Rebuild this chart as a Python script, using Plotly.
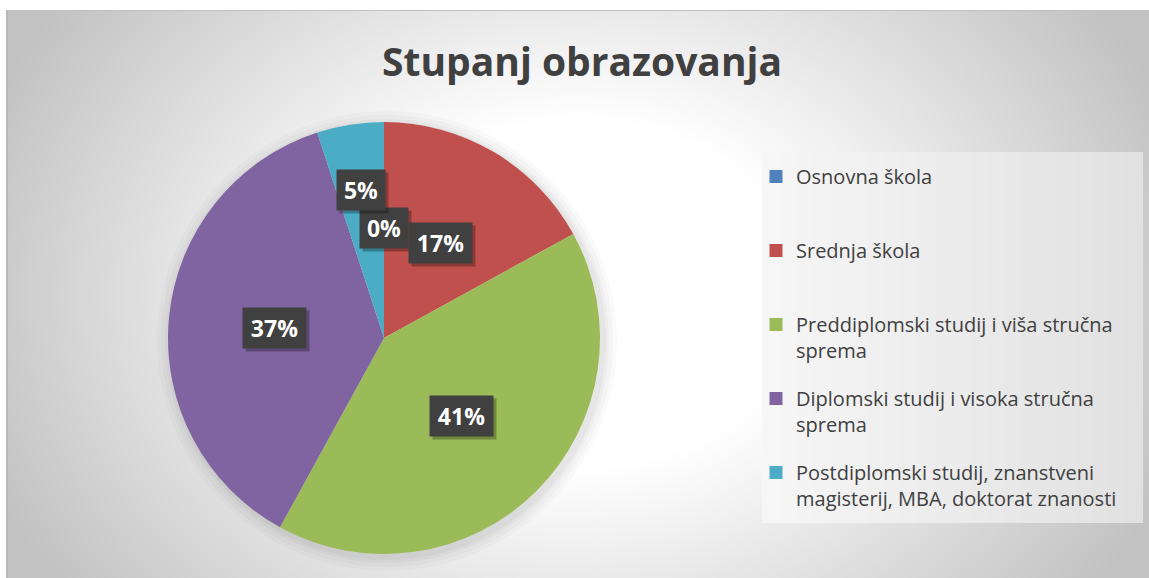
import base64
import struct
import zlib

import numpy as np
import plotly.graph_objects as go

# ---------------- data ----------------
categories = [
    "Osnovna škola",
    "Srednja škola",
    "Preddiplomski studij i viša stručna sprema",
    "Diplomski studij i visoka stručna sprema",
    "Postdiplomski studij, znanstveni magisterij, MBA, doktorat znanosti",
]
legend_labels = [
    "Osnovna škola",
    "Srednja škola",
    "Preddiplomski studij i viša stručna<br>sprema",
    "Diplomski studij i visoka stručna<br>sprema",
    "Postdiplomski studij, znanstveni<br>magisterij, MBA, doktorat znanosti",
]
values = [0, 17, 41, 37, 5]
colors = ["#4F81BD", "#C0504D", "#9BBB59", "#8064A2", "#4BACC6"]
title_text = "Stupanj obrazovanja"

# ---------------- geometry / style ----------------
W, H = 1149, 578
CX, CY, R = 384, 338, 216          # pie centre / radius in px
FONT = "Open Sans"
TEXT_COL = "#404040"


def png_uri(arr):
    arr = np.clip(arr, 0, 255).astype(np.uint8)
    h, w = arr.shape
    raw = b"".join(b"\x00" + arr[i].tobytes() for i in range(h))

    def chunk(t, d):
        return struct.pack(">I", len(d)) + t + d + struct.pack(">I", zlib.crc32(t + d) & 0xFFFFFFFF)

    png = (b"\x89PNG\r\n\x1a\n"
           + chunk(b"IHDR", struct.pack(">IIBBBBB", w, h, 8, 0, 0, 0, 0))
           + chunk(b"IDAT", zlib.compress(raw, 9))
           + chunk(b"IEND", b""))
    return "data:image/png;base64," + base64.b64encode(png).decode()


# background: radial gray gradient + legend panel + border
yy, xx = np.mgrid[0:H, 0:W].astype(float)
dist = np.sqrt(((xx - 577) / 640) ** 2 + ((yy - 294) / 500) ** 2)
t = np.clip((dist - 0.35) / 0.65, 0, 1)
bg = 255 - 61 * t
LX0, LX1, LY0, LY1 = 762, 1143, 152, 523
box = (xx >= LX0) & (xx < LX1) & (yy >= LY0) & (yy < LY1)
bg[box] = 247 - 22 * (xx[box] - LX0) / (LX1 - LX0)
bg[:10, :] = 255
bg[:, :6] = 255
bg[10, 6:] = 192
bg[10:, 6:8] = 185

fig = go.Figure()

# pie
dom_x = [(CX - R) / W, (CX + R) / W]
dom_y = [1 - (CY + R) / H, 1 - (CY - R) / H]
fig.add_trace(go.Pie(
    labels=categories, values=values, sort=False, direction="clockwise", rotation=0,
    marker=dict(colors=colors, line=dict(width=0)),
    textinfo="none", hoverinfo="label+percent", showlegend=False,
    domain=dict(x=dom_x, y=dom_y),
))

# legend entries
for i, (lab, col) in enumerate(zip(legend_labels, colors)):
    if "<br>" not in lab:
        lab = lab + "<br>\u00a0"
    fig.add_trace(go.Scatter(
        x=[None], y=[None], mode="markers", name=lab, legendgroup=str(i),
        marker=dict(symbol="square", size=13, color=col), showlegend=True, hoverinfo="skip",
    ))

# pie soft shadow
shapes = []
for k, a in [(14, 0.018), (10, 0.022), (6, 0.028), (3, 0.032)]:
    shapes.append(dict(type="circle", xref="paper", yref="paper", layer="below",
                       x0=(CX - R - k + 3) / W, x1=(CX + R + k + 3) / W,
                       y0=1 - (CY + R + k + 3) / H, y1=1 - (CY - R - k + 3) / H,
                       fillcolor=f"rgba(0,0,0,{a})", line=dict(width=0)))

# data labels (dark boxes) with simple overlap avoidance
total = sum(values)
placed = []
annotations = []
cum = 0.0
for v in values:
    frac = v / total
    mid = (cum + frac / 2) * 2 * np.pi
    cum += frac
    txt = f"{round(frac * 100)}%"
    w = 15 * len(txt) + 18
    h = 40
    d = 0.51 * R
    while True:
        px = CX + d * np.sin(mid)
        py = CY - d * np.cos(mid)
        clash = any(abs(px - qx) < (w + qw) / 2 - 4 and abs(py - qy) < h - 2
                    for qx, qy, qw in placed)
        if not clash:
            break
        d += 2
    placed.append((px, py, w))
    common = dict(xref="paper", yref="paper", x=px / W, y=1 - py / H,
                  xanchor="center", yanchor="middle", showarrow=False,
                  borderpad=5, width=w - 10, height=30)
    # box shadow (no text)
    annotations.append(dict(common, text=" ", font=dict(family=FONT, size=23, color="rgba(0,0,0,0)"),
                            bgcolor="rgba(0,0,0,0.28)", xshift=3, yshift=-3))
    annotations.append(dict(common, text=f"<b>{txt}</b>",
                            font=dict(family=FONT, size=23, color="white"),
                            bgcolor="#404040"))

fig.update_layout(
    width=W, height=H,
    margin=dict(l=0, r=0, t=0, b=0, pad=0),
    paper_bgcolor="white", plot_bgcolor="rgba(0,0,0,0)",
    xaxis=dict(visible=False), yaxis=dict(visible=False),
    images=[dict(source=png_uri(bg), xref="paper", yref="paper", x=0, y=1,
                 sizex=1, sizey=1, xanchor="left", yanchor="top",
                 sizing="stretch", layer="below")],
    shapes=shapes,
    annotations=annotations,
    title=dict(text=f"<b>{title_text}</b>", x=582 / W, xanchor="center",
               y=1 - 62 / H, yanchor="middle",
               font=dict(family=FONT, size=39, color=TEXT_COL)),
    legend=dict(x=756 / W, xanchor="left", y=1 - 157 / H, yanchor="top",
                bgcolor="rgba(0,0,0,0)", borderwidth=0,
                font=dict(family=FONT, size=20, color=TEXT_COL),
                tracegroupgap=19, valign="top", itemclick=False, itemdoubleclick=False),
    hovermode=False,
)

fig.write_html("out.html", config={"displayModeBar": False},
               post_script="document.body.style.margin='0';")
